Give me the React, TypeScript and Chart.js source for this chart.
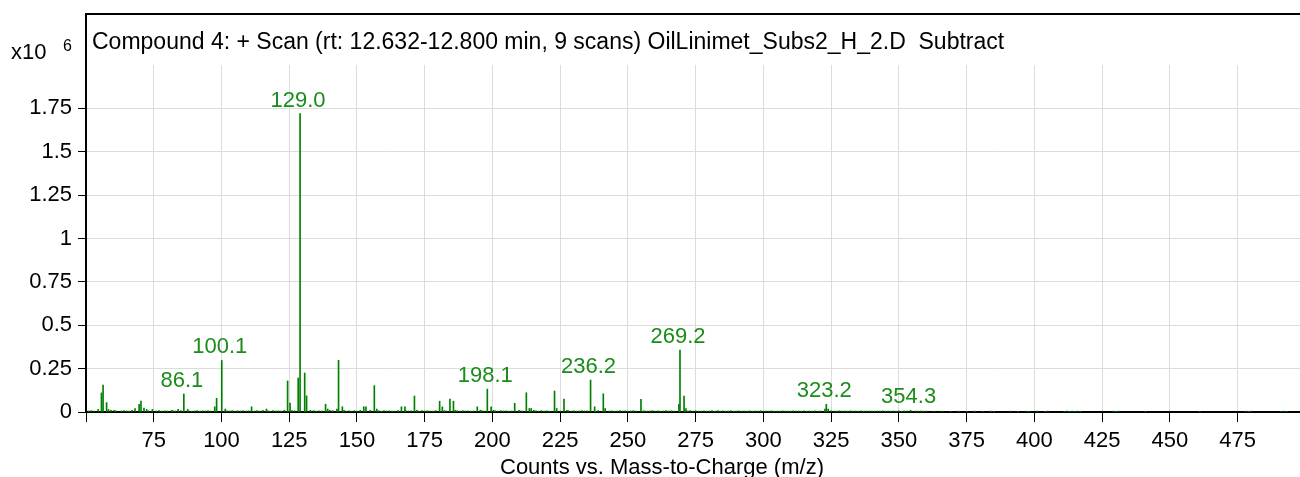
import { useEffect, useRef } from "react";
import { Chart, registerables } from "chart.js";

Chart.register(...registerables);

const FONT = '"Liberation Sans", Arial, sans-serif';
const TITLE = "Compound 4: + Scan (rt: 12.632-12.800 min, 9 scans) OilLinimet_Subs2_H_2.D  Subtract";
const X_TITLE = "Counts vs. Mass-to-Charge (m/z)";

// Main peaks: m/z and intensity (x10^6 counts)
const peakMz = [
  54.5, 55.7, 56.3, 57.6, 58.3, 59.2, 60.3, 68.1, 69.6, 70.3, 71.4, 72.4, 74.5,
  81.6, 84.0, 85.0, 86.1, 87.5, 97.5, 98.2, 100.1, 101.4, 111.1, 115.3, 116.6,
  123.2, 124.4, 125.3, 128.3, 129.0, 130.7, 131.4, 132.8, 138.4, 139.2, 140.0,
  142.6, 143.2, 144.6, 145.2, 151.2, 152.5, 153.3, 154.9, 156.4, 157.3, 165.1,
  166.4, 167.7, 171.2, 172.1, 180.5, 181.5, 182.3, 184.3, 185.6, 186.3, 194.4,
  195.5, 198.1, 199.5, 200.4, 208.2, 209.8, 212.5, 213.6, 214.3, 215.3, 222.9,
  223.7, 226.4, 227.5, 236.2, 237.7, 240.9, 241.6, 254.8, 255.5, 268.8, 269.2,
  270.7, 271.4, 283.2, 322.7, 323.2, 323.9, 354.3,
];
const peakVal = [
  0.015, 0.11, 0.155, 0.054, 0.015, 0.01, 0.01, 0.02, 0.044, 0.063, 0.022, 0.015, 0.015,
  0.01, 0.015, 0.008, 0.104, 0.015, 0.03, 0.079, 0.297, 0.017, 0.03, 0.01, 0.017,
  0.01, 0.179, 0.052, 0.196, 1.72, 0.225, 0.093, 0.01, 0.045, 0.017, 0.01,
  0.017, 0.298, 0.03, 0.01, 0.01, 0.03, 0.03, 0.01, 0.152, 0.017, 0.008,
  0.03, 0.03, 0.092, 0.01, 0.062, 0.03, 0.008, 0.075, 0.062, 0.01, 0.03,
  0.01, 0.132, 0.03, 0.01, 0.05, 0.01, 0.111, 0.02, 0.02, 0.01, 0.121,
  0.02, 0.075, 0.01, 0.184, 0.03, 0.105, 0.02, 0.073, 0.006, 0.044, 0.357,
  0.092, 0.02, 0.008, 0.017, 0.044, 0.017, 0.01,
];

// Small baseline peaks [m/z, intensity x10^6]
const noise: [number, number][] = [
  [51, 0.006], [52, 0.008], [53, 0.005], [61, 0.007], [63, 0.006], [64, 0.008], [65, 0.006],
  [66, 0.005], [67, 0.009], [73, 0.007], [76, 0.006], [77, 0.008], [78, 0.005], [79, 0.007],
  [80, 0.006], [82, 0.008], [83, 0.006], [88, 0.007], [89, 0.005], [90, 0.006], [91, 0.008],
  [92, 0.005], [93, 0.007], [94, 0.006], [95, 0.008], [96, 0.006], [102, 0.007], [103, 0.006],
  [104, 0.008], [105, 0.005], [106, 0.007], [107, 0.006], [108, 0.008], [109, 0.005], [110, 0.007],
  [112, 0.006], [113, 0.008], [114, 0.006], [117, 0.007], [118, 0.005], [119, 0.008], [120, 0.006],
  [121, 0.007], [122, 0.006], [126, 0.008], [127, 0.007], [133, 0.006], [134, 0.008], [135, 0.005],
  [136, 0.007], [137, 0.006], [141, 0.008], [146, 0.006], [147, 0.007], [148, 0.005], [149, 0.008],
  [150, 0.006], [158, 0.007], [159, 0.005], [160, 0.008], [161, 0.006], [162, 0.007], [163, 0.005],
  [164, 0.006], [168, 0.008], [169, 0.006], [170, 0.007], [173, 0.005], [174, 0.008], [175, 0.006],
  [176, 0.007], [177, 0.005], [178, 0.006], [179, 0.008], [183, 0.006], [187, 0.007], [188, 0.005],
  [189, 0.008], [190, 0.006], [191, 0.007], [192, 0.005], [193, 0.006], [196, 0.008], [197, 0.006],
  [201, 0.007], [202, 0.005], [203, 0.008], [204, 0.006], [205, 0.007], [206, 0.005], [207, 0.006],
  [210, 0.008], [211, 0.006], [216, 0.007], [217, 0.005], [218, 0.008], [219, 0.006], [220, 0.007],
  [221, 0.005], [225, 0.006], [228, 0.008], [229, 0.006], [230, 0.007], [231, 0.005], [232, 0.006],
  [233, 0.008], [234, 0.006], [235, 0.007], [238, 0.005], [239, 0.008], [243, 0.006], [244, 0.007],
  [245, 0.005], [246, 0.006], [247, 0.008], [248, 0.006], [249, 0.007], [250, 0.005], [251, 0.006],
  [252, 0.008], [253, 0.006], [256, 0.007], [257, 0.005], [258, 0.006], [259, 0.008], [260, 0.006],
  [261, 0.007], [262, 0.005], [263, 0.006], [264, 0.008], [265, 0.006], [266, 0.007], [267, 0.005],
  [272, 0.006], [273, 0.008], [274, 0.006], [275, 0.007], [276, 0.005], [277, 0.006], [278, 0.007],
  [279, 0.005], [280, 0.006], [281, 0.008], [282, 0.005], [284, 0.006], [285, 0.007], [286, 0.005],
  [287, 0.006], [288, 0.008], [289, 0.005], [290, 0.006], [291, 0.007], [292, 0.005], [293, 0.006],
  [294, 0.005], [295, 0.007], [296, 0.005], [297, 0.006], [298, 0.005], [299, 0.007], [300, 0.005],
  [301, 0.006], [302, 0.005], [303, 0.007], [304, 0.005], [305, 0.006], [306, 0.005], [307, 0.007],
  [308, 0.005], [309, 0.006], [310, 0.005], [311, 0.007], [312, 0.005], [313, 0.006], [314, 0.005],
  [315, 0.007], [316, 0.005], [317, 0.006], [318, 0.005], [319, 0.007], [320, 0.005], [321, 0.006],
  [325, 0.007], [326, 0.006], [327, 0.005], [328, 0.007], [329, 0.005], [330, 0.006], [331, 0.005],
  [332, 0.007], [333, 0.005], [334, 0.006], [335, 0.005], [336, 0.007], [337, 0.005], [338, 0.006],
  [339, 0.005], [340, 0.006], [341, 0.005], [342, 0.006], [343, 0.005], [344, 0.007], [345, 0.005],
  [346, 0.006], [347, 0.005], [348, 0.006], [349, 0.005], [350, 0.007], [351, 0.005], [352, 0.006],
  [353, 0.005], [356, 0.006], [357, 0.005], [358, 0.006], [359, 0.005], [360, 0.006], [363, 0.005],
  [366, 0.005], [369, 0.004], [372, 0.005], [375, 0.004], [378, 0.005], [381, 0.004], [384, 0.005],
  [385, 0.004], [391, 0.005], [394, 0.004], [397, 0.005], [398, 0.004], [401, 0.005], [404, 0.004],
  [405, 0.005], [411, 0.004], [412, 0.005], [413, 0.004], [414, 0.005], [415, 0.004], [416, 0.005],
  [417, 0.004], [429, 0.005], [430, 0.004], [431, 0.005], [441, 0.004], [461, 0.004], [478, 0.005],
  [479, 0.004], [480, 0.005], [491, 0.004], [492, 0.005], [493, 0.004],
];

// Annotated peaks
const labelMz = [86.1, 100.1, 129.0, 198.1, 236.2, 269.2, 323.2, 354.3];
const labelText = ["86.1", "100.1", "129.0", "198.1", "236.2", "269.2", "323.2", "354.3"];

const X_MIN = 50;
const X_MAX = 498;
const Y_MAX = 2;

export default function App() {
  const ref = useRef<HTMLCanvasElement | null>(null);

  useEffect(() => {
    if (!ref.current) return;
    const points = [
      ...noise.map(([x, y]) => ({ x, y })),
      ...peakMz.map((x, i) => ({ x, y: peakVal[i] })),
    ];

    const decor = {
      id: "decor",
      afterDraw(chart: any) {
        const { ctx, chartArea, scales } = chart;
        const { left, top, right } = chartArea;
        ctx.save();
        ctx.strokeStyle = "#000";
        ctx.lineWidth = 2;
        ctx.beginPath();
        ctx.moveTo(left - 1, 14);
        ctx.lineTo(right, 14);
        ctx.moveTo(left, 14);
        ctx.lineTo(left, top);
        ctx.stroke();

        ctx.fillStyle = "#000";
        ctx.textAlign = "left";
        ctx.textBaseline = "alphabetic";
        ctx.font = `23px ${FONT}`;
        ctx.fillText(TITLE, 92, 49);
        ctx.font = `22px ${FONT}`;
        ctx.fillText("x10", 11, 59);
        ctx.font = `16px ${FONT}`;
        ctx.fillText("6", 63, 51);
        ctx.font = `22px ${FONT}`;
        ctx.fillText(X_TITLE, 500, 474);

        ctx.fillStyle = "#1a8c1a";
        ctx.textAlign = "center";
        ctx.font = `22px ${FONT}`;
        labelMz.forEach((mz, i) => {
          const idx = peakMz.indexOf(mz);
          const v = idx >= 0 ? peakVal[idx] : 0;
          const px = scales.x.getPixelForValue(mz);
          const py = scales.y.getPixelForValue(v);
          ctx.fillText(labelText[i], px - 2, py - 7);
        });
        ctx.restore();
      },
    };

    const chart = new Chart(ref.current, {
      type: "bar",
      data: {
        datasets: [
          {
            data: points as any,
            backgroundColor: "#008000",
            borderWidth: 0,
            barThickness: 1,
            grouped: false,
          } as any,
        ],
      },
      options: {
        animation: false,
        responsive: false,
        devicePixelRatio: 1,
        layout: { padding: { top: 65, left: 0, right: 0, bottom: 0 } },
        plugins: {
          legend: { display: false },
          tooltip: { enabled: false },
          title: { display: false },
        },
        scales: {
          x: {
            type: "linear",
            min: X_MIN,
            max: X_MAX,
            offset: false,
            ticks: {
              stepSize: 25,
              includeBounds: false,
              autoSkip: false,
              maxRotation: 0,
              color: "#000",
              padding: 6,
              font: { size: 22, family: FONT },
              callback: (v: any) => (v === 50 ? "" : String(v)),
            },
            grid: {
              offset: false,
              color: "#dcdcdc",
              lineWidth: 1,
              tickColor: "#000",
              tickLength: 10,
            },
            border: { color: "#000", width: 2 },
            afterFit: (s: any) => {
              s.height = 65;
            },
          } as any,
          y: {
            min: 0,
            max: Y_MAX,
            ticks: {
              stepSize: 0.25,
              color: "#000",
              padding: 6,
              font: { size: 22, family: FONT },
              callback: (v: any) => (v === 2 ? "" : String(v)),
            },
            grid: {
              color: (c: any) => (c.tick && c.tick.value === 2 ? "rgba(0,0,0,0)" : "#dcdcdc"),
              tickColor: (c: any) => (c.tick && c.tick.value === 2 ? "rgba(0,0,0,0)" : "#000"),
              lineWidth: 1,
              tickLength: 8,
            },
            border: { color: "#000", width: 2 },
            afterFit: (s: any) => {
              s.width = 86;
            },
          } as any,
        },
      },
      plugins: [decor],
    });
    return () => chart.destroy();
  }, []);

  return (
    <div style={{ position: "fixed", left: 0, top: 0, width: 1300, height: 477, background: "#fff" }}>
      <canvas ref={ref} width={1300} height={477} />
    </div>
  );
}
